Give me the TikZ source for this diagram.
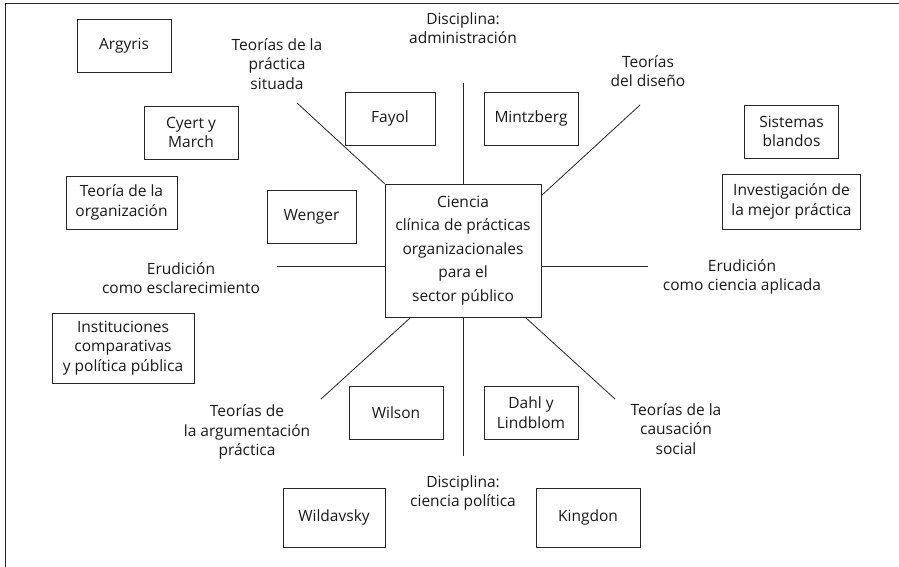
\documentclass[tikz,border=0pt]{standalone}
\usepackage{fontspec}
\setmainfont{Open Sans}
\usetikzlibrary{positioning}

\begin{document}
\begin{tikzpicture}[x=1pt,y=-1pt,align=center]
\tikzstyle{obj} = [font=\fontsize{15.5}{19.5}\selectfont,rectangle,draw=black!85,text=black!90,line width=0.8pt,align=center,inner sep=2pt,minimum width=94pt,minimum height=53pt]
\tikzstyle{lbl} = [font=\fontsize{15.5}{19.5}\selectfont,text=black!90,align=center,inner sep=1pt]
\tikzstyle{spoke} = [draw=black!85,line width=0.8pt]
\useasboundingbox (0,0) rectangle (899,567);
\draw[spoke] (5,567) -- (5,3) -- (899,3);
% central box
\node[obj,font=\fontsize{15.5}{23.5}\selectfont,minimum width=156pt,minimum height=133pt] (ctr) at (463,250.5) {Ciencia\\clínica de prácticas\\organizacionales\\para el\\sector público};
% authors and fields
\node[obj] (argyris) at (124,45.5) {Argyris};
\node[obj] (cyert) at (191,132.5) {Cyert y\\March};
\node[obj,minimum width=111pt] (teoorg) at (121.5,202.5) {Teoría de la\\organización};
\node[obj,minimum width=89pt] (wenger) at (311.5,216.5) {Wenger};
\node[obj,minimum width=90pt] (fayol) at (390,118.5) {Fayol};
\node[obj] (mintz) at (531,118.5) {Mintzberg};
\node[obj] (blandos) at (791.5,131.5) {Sistemas\\blandos};
\node[obj,minimum width=138pt,minimum height=55pt] (mejor) at (791.5,201.5) {Investigación de\\la mejor práctica};
\node[obj,minimum width=142pt,minimum height=70pt] (instit) at (123,348) {Instituciones\\comparativas\\y política pública};
\node[obj] (wilson) at (396,413) {Wilson};
\node[obj] (dahl) at (531,412.5) {Dahl y\\Lindblom};
\node[obj,minimum width=102pt,minimum height=59pt] (wildav) at (334,517.5) {Wildavsky};
\node[obj,minimum width=104pt,minimum height=59pt] (kingdon) at (588,517.5) {Kingdon};
% spoke labels
\node[lbl] (situada) at (277,64) {Teorías de la\\práctica\\situada};
\node[lbl] (admin) at (463,28) {Disciplina:\\administración};
\node[lbl] (diseno) at (648,71) {Teorías\\del diseño};
\node[lbl] (escl) at (181,278) {Erudición\\como esclarecimiento};
\node[lbl] (aplic) at (742,277) {Erudición\\como ciencia aplicada};
\node[lbl] (argum) at (247,432) {Teorías de\\la argumentación\\práctica};
\node[lbl] (causa) at (676,429) {Teorías de la\\causación\\social};
\node[lbl] (polit) at (463,493) {Disciplina:\\ciencia política};
% free ends of the spokes
\coordinate (n) at (463,83);
\coordinate (s) at (463,456);
\coordinate (w) at (277,266);
\coordinate (e) at (648,266);
\coordinate (nw) at (297,103);
\coordinate (ne) at (640,105);
\coordinate (sw) at (321,399);
\coordinate (se) at (615,399);
\draw[spoke] (n) -- (ctr.north);
\draw[spoke] (ctr.south) -- (s);
\draw[spoke] (w) -- (w -| ctr.west);
\draw[spoke] (e -| ctr.east) -- (e);
\draw[spoke] (nw) -- (ctr.north west);
\draw[spoke] (ctr.35) -- (ne);
\draw[spoke] (ctr.232) -- (sw);
\draw[spoke] (ctr.313) -- (se);
\end{tikzpicture}
\end{document}
